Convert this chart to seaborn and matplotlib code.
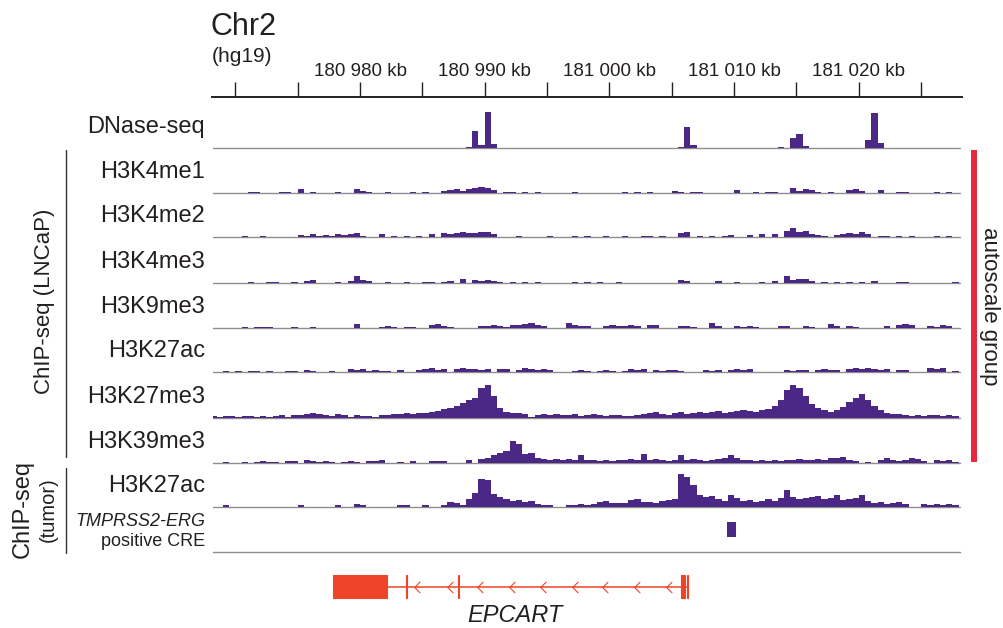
import numpy as np
import pandas as pd
import matplotlib
matplotlib.use('Agg')
import matplotlib.pyplot as plt
import seaborn as sns
from matplotlib import font_manager
from matplotlib.patches import Rectangle
from matplotlib.lines import Line2D

sns.set_style('white')
plt.rcParams['font.family'] = ['Liberation Sans', 'DejaVu Sans']

# ---- data: chr2 (hg19) window, signal in 0.5 kb bins ----
bin_start = 180968.0
bin_size = 0.5

tick_kb = [180970, 180975, 180980, 180985, 180990, 180995, 181000,
           181005, 181010, 181015, 181020, 181025]
label_kb = [180980, 180990, 181000, 181010, 181020]
tick_labels = ['180 980 kb', '180 990 kb', '181 000 kb', '181 010 kb', '181 020 kb']

dnase = [0, 0, 0, 0, 0, 0, 0, 0, 0, 0,
         0, 0, 0, 0, 0, 0, 0, 0, 0, 0,
         0, 0, 0, 0, 0, 0, 0, 0, 0, 0,
         0, 0, 0, 0, 0, 0, 0, 0, 0, 0,
         0, 1, 17, 3, 36, 4, 0, 0, 0, 0,
         0, 0, 0, 0, 0, 0, 0, 0, 0, 0,
         0, 0, 0, 0, 0, 0, 0, 0, 0, 0,
         0, 0, 0, 0, 0, 1, 21, 3, 0, 0,
         0, 0, 0, 0, 0, 0, 0, 0, 0, 0,
         0, 1, 0, 10, 14, 2, 0, 0, 0, 0,
         0, 0, 0, 0, 0, 8, 35, 5, 0, 0,
         0, 0, 0, 0, 0, 0, 0, 0, 0, 0]

h3k4me1 = [0, 0, 0, 0, 0, 0, 1, 1, 0, 0,
           0, 1, 1, 0, 4, 0, 1, 0, 0, 0,
           1, 0, 0, 4, 2, 1, 0, 0, 1, 0,
           0, 0, 1, 0, 1, 0, 0, 2, 3, 4,
           2, 4, 5, 6, 5, 3, 0, 1, 1, 0,
           1, 0, 1, 0, 0, 0, 0, 0, 1, 0,
           0, 0, 0, 0, 0, 0, 1, 0, 1, 0,
           1, 0, 0, 0, 2, 1, 0, 1, 1, 0,
           0, 0, 0, 0, 3, 0, 0, 1, 0, 1,
           1, 0, 0, 5, 2, 4, 3, 1, 0, 1,
           0, 0, 3, 4, 2, 0, 0, 3, 0, 0,
           1, 1, 0, 0, 0, 0, 1, 0, 1, 0]

h3k4me2 = [0, 0, 0, 0, 0, 1, 0, 0, 1, 0,
           0, 0, 0, 0, 2, 1, 3, 1, 2, 1,
           3, 2, 3, 4, 1, 0, 0, 3, 0, 1,
           0, 1, 0, 1, 0, 3, 0, 4, 3, 4,
           5, 4, 4, 5, 5, 3, 0, 0, 0, 1,
           0, 0, 0, 0, 1, 0, 0, 0, 1, 0,
           1, 0, 0, 1, 0, 0, 1, 0, 0, 1,
           1, 0, 1, 0, 0, 4, 5, 0, 1, 0,
           1, 0, 1, 2, 0, 0, 2, 0, 3, 0,
           3, 0, 6, 9, 5, 6, 3, 2, 1, 0,
           2, 3, 4, 3, 5, 3, 0, 1, 1, 0,
           1, 0, 1, 0, 0, 0, 1, 0, 1, 0]

h3k4me3 = [0, 0, 0, 0, 0, 0, 1, 0, 0, 1,
           1, 0, 0, 1, 0, 2, 3, 0, 0, 0,
           1, 0, 2, 7, 3, 2, 0, 0, 1, 0,
           0, 1, 0, 0, 1, 1, 0, 1, 2, 0,
           4, 0, 3, 2, 3, 2, 1, 0, 1, 0,
           1, 0, 1, 0, 0, 0, 0, 0, 1, 0,
           1, 0, 1, 0, 0, 1, 0, 0, 0, 0,
           0, 0, 0, 0, 0, 3, 2, 0, 0, 0,
           0, 2, 0, 0, 1, 0, 0, 0, 1, 0,
           2, 0, 7, 3, 4, 4, 2, 0, 1, 0,
           1, 0, 1, 0, 1, 0, 2, 0, 0, 0,
           1, 1, 0, 0, 0, 0, 0, 0, 0, 1]

h3k9me3 = [0, 0, 0, 0, 0, 1, 0, 1, 1, 1,
           0, 0, 0, 1, 0, 0, 1, 0, 0, 0,
           0, 0, 0, 4, 0, 0, 0, 1, 2, 1,
           0, 1, 1, 0, 0, 3, 4, 2, 1, 0,
           0, 0, 0, 2, 2, 3, 2, 1, 3, 3,
           4, 5, 3, 2, 0, 0, 0, 5, 3, 2,
           2, 0, 0, 2, 3, 2, 2, 3, 2, 0,
           3, 3, 0, 0, 0, 2, 2, 1, 0, 0,
           5, 2, 0, 0, 2, 1, 2, 1, 0, 0,
           0, 2, 2, 0, 0, 2, 1, 0, 0, 4,
           2, 0, 2, 1, 0, 0, 0, 0, 2, 0,
           3, 4, 3, 0, 0, 2, 1, 3, 2, 0]

h3k27ac = [0, 0, 1, 0, 1, 0, 1, 1, 0, 1,
           0, 0, 1, 1, 0, 2, 1, 0, 0, 1,
           0, 0, 3, 2, 3, 1, 2, 1, 1, 0,
           2, 0, 0, 2, 3, 4, 2, 3, 0, 3,
           4, 3, 3, 2, 3, 0, 3, 3, 0, 2,
           4, 3, 2, 3, 2, 0, 0, 0, 1, 2,
           1, 0, 1, 2, 1, 0, 1, 3, 2, 3,
           0, 2, 1, 2, 2, 1, 0, 0, 0, 2,
           1, 2, 0, 2, 3, 2, 3, 0, 0, 0,
           0, 0, 2, 1, 2, 2, 0, 2, 3, 2,
           2, 0, 3, 4, 3, 4, 3, 2, 3, 0,
           2, 2, 0, 0, 0, 4, 3, 4, 0, 1]

h3k27me3 = [2, 1, 2, 2, 1, 2, 2, 1, 2, 1,
            2, 3, 1, 3, 3, 4, 5, 4, 3, 2,
            4, 3, 1, 3, 2, 2, 1, 3, 3, 4,
            4, 5, 4, 5, 5, 6, 7, 9, 10, 12,
            15, 18, 20, 30, 33, 22, 10, 6, 5, 5,
            4, 1, 3, 4, 3, 4, 3, 3, 4, 2,
            3, 4, 3, 2, 3, 3, 2, 2, 3, 4,
            5, 6, 4, 3, 5, 6, 4, 5, 6, 5,
            6, 7, 5, 6, 7, 8, 7, 6, 8, 9,
            12, 18, 28, 33, 30, 22, 14, 10, 8, 6,
            8, 11, 16, 20, 24, 18, 12, 8, 5, 4,
            4, 3, 2, 3, 2, 3, 3, 2, 3, 2]

h3k39me3 = [0, 0, 1, 0, 0, 1, 0, 1, 2, 1,
            1, 0, 2, 2, 0, 3, 2, 1, 2, 1,
            0, 1, 2, 1, 0, 2, 2, 3, 0, 0,
            1, 0, 2, 0, 0, 2, 2, 2, 0, 0,
            0, 3, 0, 4, 5, 8, 10, 12, 22, 19,
            9, 10, 5, 4, 3, 4, 3, 4, 3, 8,
            3, 3, 2, 3, 2, 3, 3, 4, 3, 9,
            3, 4, 3, 2, 3, 8, 3, 4, 3, 2,
            3, 4, 5, 8, 5, 3, 3, 2, 3, 2,
            3, 2, 3, 3, 4, 3, 3, 4, 3, 5,
            5, 6, 3, 2, 0, 1, 0, 3, 5, 3,
            2, 3, 5, 4, 2, 0, 3, 2, 3, 1]

tumor_h3k27ac = [0, 0, 2, 0, 0, 0, 0, 0, 0, 0,
                 0, 0, 0, 0, 2, 0, 0, 0, 0, 0,
                 2, 0, 0, 3, 2, 0, 0, 0, 0, 0,
                 2, 2, 0, 0, 2, 0, 0, 2, 5, 4,
                 2, 8, 14, 28, 27, 13, 10, 8, 6, 7,
                 5, 6, 3, 2, 2, 0, 0, 2, 2, 3,
                 2, 3, 5, 6, 4, 4, 4, 7, 8, 5,
                 5, 4, 6, 7, 8, 33, 30, 22, 12, 10,
                 11, 8, 6, 12, 9, 6, 7, 5, 6, 8,
                 6, 9, 17, 10, 8, 9, 10, 11, 8, 9,
                 12, 7, 8, 9, 12, 6, 4, 5, 3, 4,
                 5, 3, 0, 0, 3, 2, 3, 2, 3, 2]

track_names = ['DNase-seq', 'H3K4me1', 'H3K4me2', 'H3K4me3', 'H3K9me3',
               'H3K27ac', 'H3K27me3', 'H3K39me3', 'H3K27ac']
track_values = [dnase, h3k4me1, h3k4me2, h3k4me3, h3k9me3,
                h3k27ac, h3k27me3, h3k39me3, tumor_h3k27ac]

cre_start, cre_end = 181009.4, 181010.15

gene_name = 'EPCART'
exon_starts = [180977.8, 180983.7, 180987.85, 181005.78, 181006.2]
exon_ends = [180982.2, 180983.78, 180987.93, 181006.05, 181006.28]
chevron_kb = [180984.55, 180987.2, 180989.6, 180992.15, 180994.7,
              180997.25, 180999.65, 181002.2, 181004.75]

# ---- layout (pixels of the 1004x628 picture) ----
W, H = 1004, 628
PURPLE = '#4b2885'
GENE_RED = '#ee4427'
BAR_RED = '#e8283f'
TXT = '#231f20'
BASE_GREY = '#8e8e8e'
baselines = [148, 193, 237, 283, 328, 372, 418, 463, 507]
cre_base = 552

def kb_at(px):
    return 180980 + (px - 360) / 12.47

def px_axes(x0, y_top, x1, y_bot):
    ax = fig.add_axes([x0 / W, 1 - y_bot / H, (x1 - x0) / W, (y_bot - y_top) / H])
    ax.set_xlim(kb_at(x0), kb_at(x1))
    return ax

def ftext(x, y, s, **kw):
    kw.setdefault('color', TXT)
    fig.text(x / W, 1 - y / H, s, **kw)

fig = plt.figure(figsize=(W / 100, H / 100), dpi=100)

n_bins = len(dnase)
centers = bin_start + bin_size * (np.arange(n_bins) + 0.5)

for name, vals, base in zip(track_names, track_values, baselines):
    ax = px_axes(213, base - 40, 960, base)
    df = pd.DataFrame({'kb': centers, 'signal': vals})
    sns.histplot(data=df, x='kb', weights='signal', bins=n_bins,
                 binrange=(bin_start, bin_start + n_bins * bin_size), element='step',
                 fill=True, color=PURPLE, alpha=1, linewidth=0, ax=ax)
    ax.set_ylim(0, 40)
    ax.set_xlim(kb_at(213), kb_at(960))
    ax.axhline(0, color=BASE_GREY, lw=1, zorder=0, clip_on=False)
    ax.set_axis_off()
    ftext(205, base - 21, name, fontsize=17, ha='right', va='center')

# CRE track
ax = px_axes(213, cre_base - 40, 960, cre_base)
ax.set_ylim(0, 40)
ax.add_patch(Rectangle((cre_start, 15), cre_end - cre_start, 15, color=PURPLE, lw=0))
ax.axhline(0, color=BASE_GREY, lw=1, clip_on=False)
ax.set_axis_off()
ftext(205, 521, 'TMPRSS2-ERG', fontsize=13, style='italic', ha='right', va='center')
ftext(205, 541, 'positive CRE', fontsize=13, ha='right', va='center')

# ruler
names = {f.name for f in font_manager.fontManager.ttflist}
if 'Liberation Sans Narrow' in names:
    tick_font, tick_size = ['Liberation Sans Narrow'], 16.5
else:
    tick_font, tick_size = ['Liberation Sans'], 13.5
ax = px_axes(212, 60, 962, 97)
ax.set_ylim(0, 1)
for side in ['left', 'right', 'top']:
    ax.spines[side].set_visible(False)
ax.spines['bottom'].set_color('#222222')
ax.spines['bottom'].set_linewidth(1.4)
ax.set_xticks(tick_kb)
ax.set_yticks([])
ax.tick_params(axis='x', bottom=True, direction='in', length=11, width=1,
               color='#222222', labelbottom=False)
for kb, lab in zip(label_kb, tick_labels):
    ax.text(kb, 0.7, lab, ha='center', va='center', fontsize=tick_size,
            family=tick_font, color=TXT, transform=ax.get_xaxis_transform())

ftext(211, 27, 'Chr2', fontsize=22, va='center')
ftext(212, 57, '(hg19)', fontsize=15, va='center')

# gene model
ax = px_axes(213, 570, 960, 605)
ax.set_ylim(605, 570)
ax.plot([exon_ends[0], exon_starts[-1]], [587, 587], color=GENE_RED, lw=1.1)
for s, e in zip(exon_starts, exon_ends):
    ax.add_patch(Rectangle((s, 575), e - s, 23, color=GENE_RED, lw=0.8))
ax.plot(chevron_kb, [587] * len(chevron_kb), ls='none', color=GENE_RED,
        marker=[(0.5, 1), (-0.5, 0), (0.5, -1)], mfc='none', mew=0.8, ms=8)
ax.set_axis_off()
ftext(515, 615, gene_name, fontsize=17, style='italic', ha='center', va='center')

# group labels and brackets
fig.add_artist(Line2D([66 / W, 66 / W], [1 - 150 / H, 1 - 457 / H], color='#333333', lw=1))
fig.add_artist(Line2D([66 / W, 66 / W], [1 - 468 / H, 1 - 553 / H], color='#333333', lw=1))
ftext(45, 301, 'ChIP-seq (LNCaP)', fontsize=16, rotation=90, ha='center', va='center')
ftext(23, 509, 'ChIP-seq', fontsize=17, rotation=90, ha='center', va='center')
ftext(48, 510, '(tumor)', fontsize=14.5, rotation=90, ha='center', va='center')

fig.add_artist(Rectangle((971 / W, 1 - 462 / H), 6 / W, 312 / H,
                         transform=fig.transFigure, color=BAR_RED, lw=0))
ftext(990, 306, 'autoscale group', fontsize=16, rotation=-90, ha='center', va='center')

fig.savefig('out.png', dpi=100)
